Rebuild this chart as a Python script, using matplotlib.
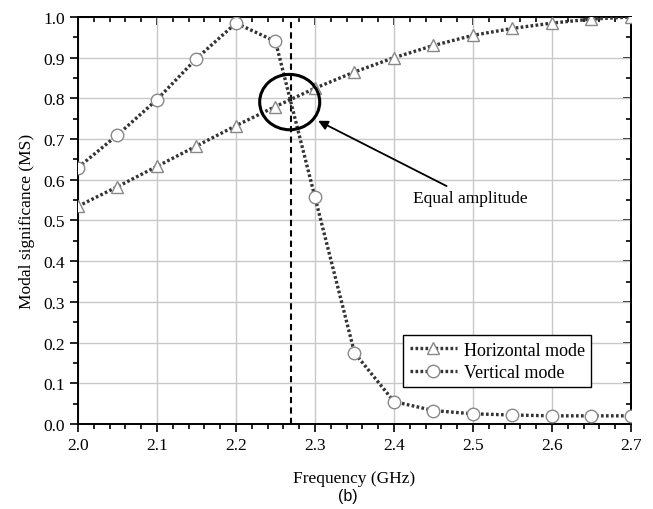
import matplotlib.pyplot as plt
from matplotlib.patches import Ellipse
from matplotlib.ticker import MultipleLocator

freq = [2.0, 2.05, 2.1, 2.15, 2.2, 2.25, 2.3, 2.35, 2.4, 2.45, 2.5, 2.55, 2.6, 2.65, 2.7]
horizontal = [0.535, 0.583, 0.633, 0.683, 0.733, 0.780, 0.825, 0.865, 0.900, 0.930, 0.955, 0.972, 0.985, 0.995, 1.0]
vertical = [0.630, 0.710, 0.797, 0.898, 0.985, 0.940, 0.557, 0.175, 0.055, 0.033, 0.025, 0.022, 0.020, 0.020, 0.020]
equal_freq = 2.27

plt.rcParams['font.family'] = ['Liberation Serif', 'DejaVu Serif']
plt.rcParams['font.sans-serif'] = ['Liberation Sans', 'DejaVu Sans']

fig = plt.figure(figsize=(6.53, 5.10), dpi=100)
ax = fig.add_axes([0.1194, 0.1667, 0.8469, 0.798])

ax.grid(True, color='#c8c8c8', linewidth=1.0)
ax.set_axisbelow(True)

dots = (0, (0.8, 0.7))
ax.plot(freq, horizontal, linestyle=dots, color='#333333', linewidth=2.4,
        marker='^', markersize=9, markerfacecolor='white', markeredgecolor='#888888',
        markeredgewidth=1.0, label='Horizontal mode', zorder=3)
ax.plot(freq, vertical, linestyle=dots, color='#333333', linewidth=2.4,
        marker='o', markersize=9, markerfacecolor='white', markeredgecolor='#888888',
        markeredgewidth=1.0, label='Vertical mode', zorder=3)

ax.axvline(equal_freq, color='black', linestyle=(0, (3, 2)), linewidth=1.5, zorder=2)

ax.add_patch(Ellipse((2.268, 0.791), 0.076, 0.136, fill=False, edgecolor='black',
                     linewidth=2.2, zorder=4))
ax.annotate('Equal amplitude', xy=(2.304, 0.745), xytext=(2.424, 0.555),
            fontsize=12.5, va='center', ha='left',
            arrowprops=dict(arrowstyle='-|>', color='black', linewidth=1.3,
                            mutation_scale=14, shrinkA=2, shrinkB=0))

ax.set_xlim(2.0, 2.7)
ax.set_ylim(0.0, 1.0)
ax.xaxis.set_major_locator(MultipleLocator(0.1))
ax.xaxis.set_minor_locator(MultipleLocator(0.02))
ax.yaxis.set_major_locator(MultipleLocator(0.1))
ax.yaxis.set_minor_locator(MultipleLocator(0.05))
ax.xaxis.set_major_formatter(plt.FormatStrFormatter('%.1f'))
ax.yaxis.set_major_formatter(plt.FormatStrFormatter('%.1f'))

ax.tick_params(which='both', direction='out', labelsize=12.5, width=1.2)
ax.tick_params(which='major', length=6)
ax.tick_params(which='minor', length=3.5)
ax2 = ax.secondary_xaxis('top')
ax2.xaxis.set_major_locator(MultipleLocator(0.1))
ax2.xaxis.set_minor_locator(MultipleLocator(0.02))
ax2.tick_params(which='both', direction='in', labeltop=False, width=1.2)
ax2.tick_params(which='major', length=6)
ax2.tick_params(which='minor', length=3.5)
ax3 = ax.secondary_yaxis('right')
ax3.yaxis.set_major_locator(MultipleLocator(0.1))
ax3.yaxis.set_minor_locator(MultipleLocator(0.05))
ax3.tick_params(which='both', direction='in', labelright=False, width=1.2)
ax3.tick_params(which='major', length=6)
ax3.tick_params(which='minor', length=3.5)
for a in (ax, ax2, ax3):
    for spine in a.spines.values():
        spine.set_linewidth(1.4)

ax.set_xlabel('Frequency (GHz)', fontsize=12.5, labelpad=12)
ax.set_ylabel('Modal significance (MS)', fontsize=12.5, labelpad=6)

leg = ax.legend(loc='upper left', bbox_to_anchor=(0.572, 0.24), fontsize=13,
                frameon=True, fancybox=False, edgecolor='black', framealpha=1,
                handlelength=2.6, borderpad=0.35, labelspacing=0.3, handletextpad=0.4)
leg.get_frame().set_linewidth(1.0)

fig.text(0.532, 0.027, '(b)', fontsize=11.5, ha='center', va='center',
         family='sans-serif')

fig.savefig('out.png', dpi=100)
